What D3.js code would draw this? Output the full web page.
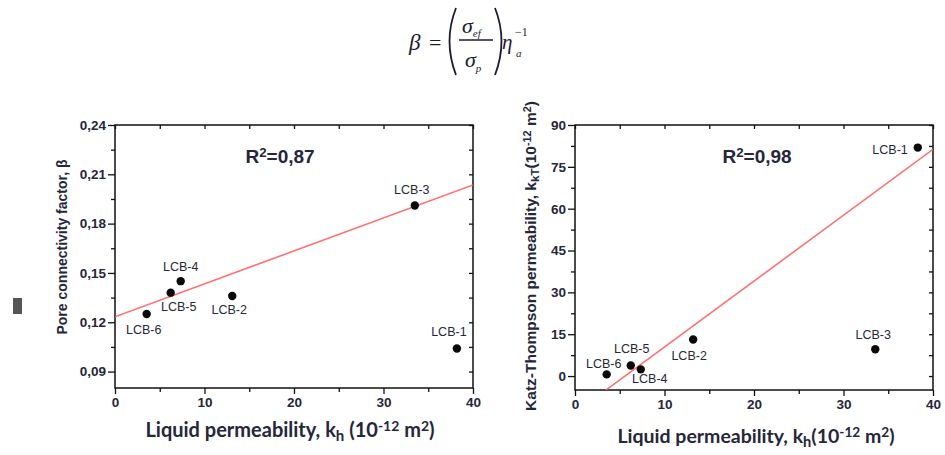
<!DOCTYPE html>
<html><head><meta charset="utf-8">
<script src="https://cdn.jsdelivr.net/npm/d3@7"></script>
<style>body{margin:0;background:#fff}svg{display:block}</style>
</head><body>
<svg id="c" width="945" height="455"></svg>
<script>
// ---------------- DATA ----------------
const samples = ["LCB-1","LCB-2","LCB-3","LCB-4","LCB-5","LCB-6"];
const liquidPerm = [38.2, 13.1, 33.5, 7.34, 6.22, 3.54];          // kh (10^-12 m2) – left chart x
const poreConnectivity = [0.104, 0.136, 0.191, 0.145, 0.138, 0.125]; // beta – left chart y
const liquidPermR = [38.3, 13.2, 33.55, 7.35, 6.23, 3.54];        // kh – right chart x
const katzThompson = [81.9, 13.1, 9.6, 2.4, 3.8, 0.6];            // kKT (10^-12 m2) – right chart y
const fitLeft = {intercept: 0.1233, slope: 0.002005};
const fitRight = {intercept: -13.2, slope: 2.362};
const r2Left = "0,87", r2Right = "0,98";
const xTicks = [0, 10, 20, 30, 40];
const xMinor = [5, 15, 25, 35];
const yTicksLeft = [0.09, 0.12, 0.15, 0.18, 0.21, 0.24];
const yMinorLeft = [0.105, 0.135, 0.165, 0.195, 0.225];
const yTicksRight = [0, 15, 30, 45, 60, 75, 90];
const yMinorRight = [7.5, 22.5, 37.5, 52.5, 67.5, 82.5];

// ---------------- LAYOUT ----------------
// label offsets [dx, dy, anchor] in sample order
const lblLeft  = [[-8,-13,"middle"],[-3,18,"middle"],[-3,-12,"middle"],[0,-10,"middle"],[8,18,"middle"],[-3,20,"middle"]];
const lblRight = [[-10,6,"end"],[-4,20,"middle"],[-2,-10,"middle"],[9,14,"middle"],[1,-12,"middle"],[-3,-6,"middle"]];

const svg = d3.select("#c");
const TXT = "#26263a";
const FONT = "'Liberation Sans', Arial, sans-serif";

function rich(sel, parts){
  parts.forEach(p=>{
    const t = sel.append("tspan").text(p[0]);
    if(p[1]==="sub"){ t.attr("baseline-shift","-25%").attr("font-size","75%"); }
    if(p[1]==="sup"){ t.attr("baseline-shift","45%").attr("font-size","70%"); }
  });
}

function chart(o){
  const g = svg.append("g");
  const x = d3.scaleLinear().domain(o.xDom).range([o.x0, o.x1]);
  const y = d3.scaleLinear().domain(o.yDom).range([o.y1, o.y0]);
  const clipId = "clip"+o.id;
  svg.append("clipPath").attr("id",clipId).append("rect")
    .attr("x",o.x0).attr("y",o.y0).attr("width",o.x1-o.x0).attr("height",o.y1-o.y0);

  g.append("rect").attr("x",o.x0).attr("y",o.y0).attr("width",o.x1-o.x0).attr("height",o.y1-o.y0)
    .attr("fill","none").attr("stroke","#111").attr("stroke-width",1.5);

  const styleAxis = a => { a.select(".domain").remove();
    a.selectAll(".tick line").attr("stroke","#111").attr("stroke-width",1.3);
    a.selectAll("text").attr("fill",TXT).attr("font-family",FONT).attr("font-weight","bold").attr("font-size","13.5px"); };

  g.append("g").attr("transform",`translate(0,${o.y1})`)
    .call(d3.axisBottom(x).tickValues(xTicks).tickSize(6).tickPadding(3).tickFormat(d3.format("d"))).call(styleAxis);
  g.append("g").attr("transform",`translate(0,${o.y1})`)
    .call(d3.axisBottom(x).tickValues(xMinor).tickSize(4).tickFormat("")).call(styleAxis);
  g.append("g").attr("transform",`translate(0,${o.y0})`)
    .call(d3.axisBottom(x).tickValues(xTicks.concat(xMinor)).tickSize(4).tickFormat("")).call(styleAxis);
  g.append("g").attr("transform",`translate(${o.x0},0)`)
    .call(d3.axisLeft(y).tickValues(o.yTicks).tickSize(7).tickPadding(2).tickFormat(o.yFmt)).call(styleAxis);
  g.append("g").attr("transform",`translate(${o.x0},0)`)
    .call(d3.axisLeft(y).tickValues(o.yMinor).tickSize(4).tickFormat("")).call(styleAxis);
  g.append("g").attr("transform",`translate(${o.x1},0)`)
    .call(d3.axisLeft(y).tickValues(o.yTicks.concat(o.yMinor)).tickSize(4).tickFormat("")).call(styleAxis);

  g.append("line").attr("clip-path",`url(#${clipId})`)
    .attr("x1",x(o.xDom[0])).attr("y1",y(o.fit.intercept+o.fit.slope*o.xDom[0]))
    .attr("x2",x(o.xDom[1])).attr("y2",y(o.fit.intercept+o.fit.slope*o.xDom[1]))
    .attr("stroke","#ff5a5a").attr("stroke-width",1.6).attr("opacity",0.85);

  const pts = o.xv.map((v,i)=>({x:v,y:o.yv[i],n:samples[i],l:o.lbl[i]}));
  g.selectAll("circle.p").data(pts).enter()
    .append("circle").attr("cx",d=>x(d.x)).attr("cy",d=>y(d.y)).attr("r",4.2).attr("fill","#0a0a0a");
  g.selectAll("text.lb").data(pts).enter()
    .append("text").attr("x",d=>x(d.x)+d.l[0]).attr("y",d=>y(d.y)+d.l[1]).attr("text-anchor",d=>d.l[2])
    .attr("font-family",FONT).attr("font-size","12.5px").attr("fill",TXT).text(d=>d.n);

  const rt = g.append("text").attr("x",o.r2x).attr("y",o.y0+38).attr("text-anchor","middle")
    .attr("font-family",FONT).attr("font-weight","bold").attr("font-size","19px").attr("fill",TXT);
  rich(rt, [["R","n"],["2","sup"],["="+o.r2,"n"]]);
  return {x,y};
}

chart({id:"L", x0:115, x1:473, y0:125, y1:388, xDom:[0,40], yDom:[0.08,0.24],
  yTicks:yTicksLeft, yMinor:yMinorLeft, yFmt:d=>d3.format(".2f")(d).replace(".",","),
  xv:liquidPerm, yv:poreConnectivity, fit:fitLeft, lbl:lblLeft, r2:r2Left, r2x:280});
chart({id:"R", x0:575, x1:933, y0:125, y1:390, xDom:[0,40], yDom:[-5,90],
  yTicks:yTicksRight, yMinor:yMinorRight, yFmt:d3.format("d"),
  xv:liquidPermR, yv:katzThompson, fit:fitRight, lbl:lblRight, r2:r2Right, r2x:757});

const t1 = svg.append("text").attr("x",290).attr("y",437).attr("text-anchor","middle")
  .attr("font-family","Lato, 'Open Sans', sans-serif").attr("font-weight","bold").attr("font-size","20px").attr("fill",TXT);
rich(t1, [["Liquid permeability, k","n"],["h","sub"],[" (10","n"],["-12","sup"],[" m","n"],["2","sup"],[")","n"]]);
const t2 = svg.append("text").attr("x",756).attr("y",443).attr("text-anchor","middle")
  .attr("font-family","Lato, 'Open Sans', sans-serif").attr("font-weight","bold").attr("font-size","19.5px").attr("fill",TXT);
rich(t2, [["Liquid permeability, k","n"],["h","sub"],["(10","n"],["-12","sup"],[" m","n"],["2","sup"],[")","n"]]);
const t3 = svg.append("text").attr("transform","translate(67,247) rotate(-90)").attr("text-anchor","middle")
  .attr("font-family",FONT).attr("font-weight","bold").attr("font-size","14px").attr("fill",TXT);
rich(t3, [["Pore connectivity factor, β","n"]]);
const t4 = svg.append("text").attr("transform","translate(536,256) rotate(-90)").attr("text-anchor","middle")
  .attr("font-family",FONT).attr("font-weight","bold").attr("font-size","15.5px").attr("fill",TXT);
rich(t4, [["Katz-Thompson permeability, k","n"],["kT","sub"],["(10","n"],["-12","sup"],[" m","n"],["2","sup"],[")","n"]]);

// formula
const fg = svg.append("g").attr("fill","#1c1c30").attr("font-family","'Liberation Serif', 'DejaVu Serif', serif").attr("font-style","italic");
fg.append("text").attr("x",409).attr("y",50).attr("font-size","23px").text("β");
fg.append("text").attr("x",429).attr("y",50).attr("font-size","22px").attr("font-style","normal").text("=");
fg.append("path").attr("d","M456,8 Q443,41 456,75").attr("fill","none").attr("stroke","#1c1c30").attr("stroke-width",1.8);
fg.append("path").attr("d","M495,8 Q508,41 495,75").attr("fill","none").attr("stroke","#1c1c30").attr("stroke-width",1.8);
const num = fg.append("text").attr("x",462).attr("y",33).attr("font-size","22px");
num.append("tspan").text("σ"); num.append("tspan").attr("font-size","11px").attr("dy",4).text("ef");
fg.append("line").attr("x1",459).attr("x2",493).attr("y1",40).attr("y2",40).attr("stroke","#1c1c30").attr("stroke-width",1.6);
const den = fg.append("text").attr("x",465).attr("y",67).attr("font-size","22px");
den.append("tspan").text("σ"); den.append("tspan").attr("font-size","11px").attr("dy",5).text("p");
fg.append("text").attr("x",502).attr("y",49).attr("font-size","21px").text("η");
fg.append("text").attr("x",515).attr("y",36).attr("font-size","12px").attr("font-style","normal").text("−1");
fg.append("text").attr("x",516).attr("y",57).attr("font-size","11px").text("a");

svg.append("rect").attr("x",13).attr("y",298).attr("width",9).attr("height",16).attr("fill","#555");
</script>
</body></html>
